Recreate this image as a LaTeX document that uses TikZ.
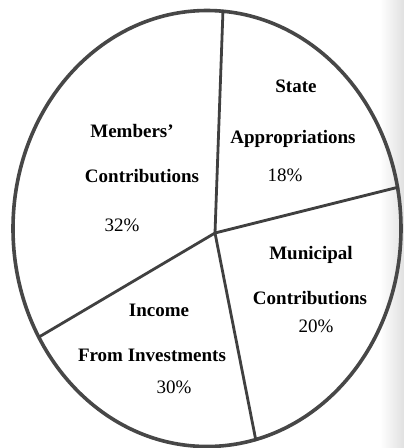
\documentclass[tikz,border=0pt]{standalone}
\usepackage{fontspec}
\setmainfont{Liberation Serif}
\begin{document}
\begin{tikzpicture}[x=1pt,y=-1pt,
  lbl/.style={anchor=base,inner sep=0pt,font=\fontsize{19}{22}\selectfont\bfseries},
  pct/.style={anchor=base,inner sep=0pt,font=\fontsize{19}{22}\selectfont},
  rim/.style={draw=black!72,line width=3.6pt},
  spoke/.style={draw=black!75,line width=2.8pt}]
\useasboundingbox (0,0) rectangle (404,448);
\fill[white] (0,0) rectangle (404,448);
\shade[left color=white,right color=black!12] (380,0) rectangle (404,448);
\draw[rim] (207,228.5) ellipse [x radius=194, y radius=218];
\coordinate (c) at (215,233);
\coordinate (top) at (223,10);
\coordinate (right) at (399,187);
\coordinate (bottom) at (256,441);
\coordinate (left) at (39,337);
\draw[spoke] (c) -- (top);
\draw[spoke] (c) -- (right);
\draw[spoke] (c) -- (bottom);
\draw[spoke] (c) -- (left);
\node[lbl] (s1) at (296,92) {State};
\node[lbl] (s2) at (293,143) {Appropriations};
\node[pct] (s3) at (285,181) {18\%};
\node[lbl] (m1) at (132,137) {Members'};
\node[lbl] (m2) at (142,182) {Contributions};
\node[pct] (m3) at (122,231) {32\%};
\node[lbl] (u1) at (311,259) {Municipal};
\node[lbl] (u2) at (310,304) {Contributions};
\node[pct] (u3) at (316,332) {20\%};
\node[lbl] (i1) at (159,316) {Income};
\node[lbl] (i2) at (152,361) {From Investments};
\node[pct] (i3) at (174,393) {30\%};
\end{tikzpicture}
\end{document}
